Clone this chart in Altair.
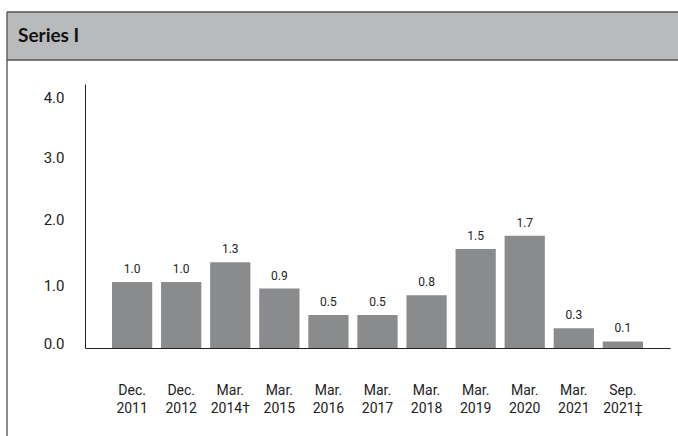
import altair as alt
import pandas as pd

categories = ["Dec.|2011", "Dec.|2012", "Mar.|2014\u2020", "Mar.|2015", "Mar.|2016",
              "Mar.|2017", "Mar.|2018", "Mar.|2019", "Mar.|2020", "Mar.|2021", "Sep.|2021\u2021"]
values = [1.0, 1.0, 1.3, 0.9, 0.5, 0.5, 0.8, 1.5, 1.7, 0.3, 0.1]
y_ticks = [0, 1, 2, 3, 4]
title_text = "Series I"

df = pd.DataFrame({"cat": categories, "val": values})

FONT = "Roboto"
TXT = "#222222"
LINE = "#4f4f4f"

x_enc = alt.X(
    "cat:N", sort=categories, title=None,
    scale=alt.Scale(paddingInner=0.18, paddingOuter=0.55, range=[0, 585]),
    axis=alt.Axis(
        labelExpr="split(datum.label, '|')", labelAngle=0, ticks=False,
        domainColor="#222222", domainWidth=1, labelPadding=35,
        labelLineHeight=18, labelFontSize=14, labelFont=FONT, labelColor=TXT,
        labelBaseline="top",
    ),
)
y_enc = alt.Y(
    "val:Q", title=None,
    scale=alt.Scale(domain=[0, 4], nice=False),
    axis=alt.Axis(
        values=y_ticks, format=".1f", grid=False, ticks=False,
        domainColor="#222222", domainWidth=1, labelPadding=21,
        labelFontSize=15, labelFont=FONT, labelColor=TXT,
        labelOffset={"condition": [
            {"test": "datum.value == 4", "value": 13},
            {"test": "datum.value == 3", "value": 7},
            {"test": "datum.value == 0", "value": -5}], "value": 3},
    ),
)

bars = alt.Chart(df).mark_bar(color="#898b8d").encode(x=x_enc, y=y_enc)
labels = alt.Chart(df).mark_text(
    baseline="bottom", dy=-6, fontSize=12, font=FONT, color=TXT
).encode(x=alt.X("cat:N", sort=categories), y="val:Q", text=alt.Text("val:Q", format=".1f"))

frame_data = alt.Data(values=[{"t": title_text}])
header = alt.Chart(frame_data).mark_rect(fill="#b9babc").encode(
    x=alt.value(-78), x2=alt.value(593), y=alt.value(-72), y2=alt.value(-24))
top_line = alt.Chart(frame_data).mark_rule(color=LINE, strokeWidth=1.3).encode(
    x=alt.value(-78), x2=alt.value(593), y=alt.value(-72))
bottom_line = alt.Chart(frame_data).mark_rule(color=LINE, strokeWidth=1.3).encode(
    x=alt.value(-78), x2=alt.value(593), y=alt.value(-24))
left_line = alt.Chart(frame_data).mark_rule(color=LINE, strokeWidth=1.3).encode(
    x=alt.value(-78), y=alt.value(-72), y2=alt.value(400))
title = alt.Chart(frame_data).mark_text(
    align="left", baseline="middle", font="Lato", fontWeight="bold", fontSize=19, color="#111111"
).encode(x=alt.value(-67), y=alt.value(-48), text="t:N")

chart = alt.layer(bars, labels, header, top_line, bottom_line, left_line, title).properties(
    width=593, height=264,
    autosize=alt.AutoSizeParams(type="none"),
    padding={"left": 85, "top": 84, "right": 0, "bottom": 88},
).configure_view(strokeWidth=0)

chart.save("out.html", embed_options={"renderer": "svg", "actions": False})
